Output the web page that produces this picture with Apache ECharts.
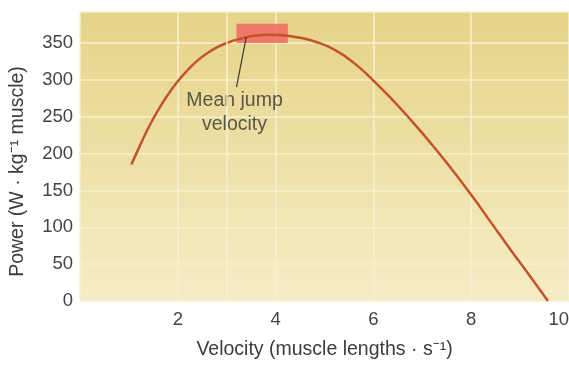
<!DOCTYPE html>
<html>
<head>
<meta charset="utf-8">
<script src="https://cdn.jsdelivr.net/npm/echarts@6/dist/echarts.min.js"></script>
<style>html,body{margin:0;padding:0;background:#fff}#c{width:569px;height:365px}</style>
</head>
<body>
<div id="c"></div>
<script>
// Data
const velocity = [1.05, 1.2, 1.4, 1.6, 1.8, 2.0, 2.2, 2.4, 2.6, 2.8, 3.0, 3.3, 3.6, 3.9, 4.2, 4.5, 4.8, 5.2, 5.6, 6.0, 6.4, 6.8, 7.2, 7.6, 8.0, 8.4, 8.8, 9.2, 9.57];
const power    = [185, 207, 235, 259, 280, 298, 313, 326, 336, 344, 350, 356, 360, 361, 360, 357, 352, 341, 323, 299, 272, 243, 212, 179, 144, 107, 70, 34, 0];
const xTicks = [0, 2, 4, 6, 8, 10];
const yTicks = [0, 50, 100, 150, 200, 250, 300, 350];
const extraXGrid = [3];
const meanJumpBand = { x0: 3.2, x1: 4.25, y0: 350, y1: 376 };
const pointerLine = [[3.4, 358], [3.2, 290]];
const annotation = { x: 3.16, y: 256, text: 'Mean jump\nvelocity' };

const font = '"Liberation Sans", Arial, Helvetica, sans-serif';
const chart = echarts.init(document.getElementById('c'));
const gridColor = '#f7f0d2';
chart.setOption({
  animation: false,
  backgroundColor: '#ffffff',
  grid: {
    left: 80, right: 0, top: 12, bottom: 64, show: true, borderWidth: 0,
    containLabel: false, outerBoundsMode: 'none',
    backgroundColor: new echarts.graphic.LinearGradient(0, 0, 0, 1, [
      { offset: 0, color: '#e5d387' },
      { offset: 1, color: '#f6edc6' }
    ])
  },
  xAxis: {
    type: 'value', min: xTicks[0], max: xTicks[xTicks.length - 1], interval: 2,
    name: 'Velocity (muscle lengths · s\u207B\u00B9)',
    nameLocation: 'middle', nameGap: 39,
    nameTextStyle: { fontFamily: font, fontSize: 19.5, color: '#3c3c3c' },
    axisLine: { show: false }, axisTick: { show: false },
    axisLabel: {
      fontFamily: font, fontSize: 18.5, color: '#444', margin: 9,
      alignMaxLabel: 'right',
      formatter: v => (v === 0 ? '' : String(v))
    },
    splitLine: { show: true, lineStyle: { color: gridColor, width: 1.5 } }
  },
  yAxis: {
    type: 'value', min: yTicks[0], max: 392, interval: 50,
    name: 'Power (W · kg\u207B\u00B9 muscle)',
    nameLocation: 'middle', nameGap: 52, nameRotate: 90,
    nameTextStyle: { fontFamily: font, fontSize: 19.5, color: '#3c3c3c', padding: [0, 30, 0, 0] },
    axisLine: { show: false }, axisTick: { show: false },
    axisLabel: {
      fontFamily: font, fontSize: 18.5, color: '#444', margin: 7,
      showMaxLabel: false,
      formatter: v => (yTicks.indexOf(v) >= 0 ? String(v) : '')
    },
    splitLine: { show: true, lineStyle: { color: gridColor, width: 1.5 } }
  },
  series: [
    {
      type: 'line', data: [], silent: true,
      markLine: {
        silent: true, symbol: 'none', label: { show: false },
        lineStyle: { color: gridColor, width: 1.5, type: 'solid' },
        data: extraXGrid.map(v => ({ xAxis: v }))
      }
    },
    {
      type: 'line', smooth: true, showSymbol: false, z: 3,
      data: velocity.map((v, i) => [v, power[i]]),
      lineStyle: { color: '#c4532b', width: 2.5 },
      markArea: {
        silent: true,
        itemStyle: { color: 'rgba(240,105,98,0.85)', borderRadius: 3 },
        data: [[{ coord: [meanJumpBand.x0, meanJumpBand.y0] }, { coord: [meanJumpBand.x1, meanJumpBand.y1] }]]
      },
      markLine: {
        silent: true, symbol: 'none', label: { show: false },
        lineStyle: { color: '#3a3a3a', width: 1.2, type: 'solid' },
        data: [[{ coord: pointerLine[0] }, { coord: pointerLine[1] }]]
      }
    },
    {
      type: 'scatter', symbolSize: 0, silent: true, z: 4,
      data: [[annotation.x, annotation.y]],
      label: {
        show: true, position: 'inside', formatter: annotation.text,
        fontFamily: font, fontSize: 19.5, color: '#333', lineHeight: 24, align: 'center'
      }
    }
  ]
});
</script>
</body>
</html>
